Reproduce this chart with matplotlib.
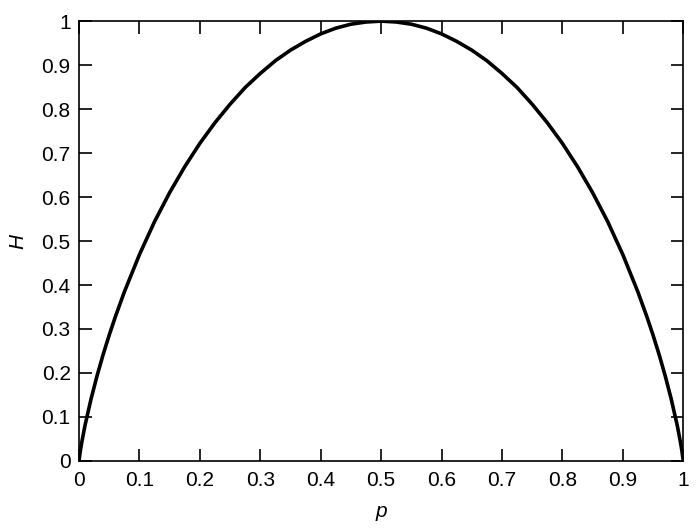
import matplotlib.pyplot as plt

# points
p = [0, 0.0025, 0.005, 0.01, 0.02, 0.03, 0.04, 0.05, 0.06, 0.075, 0.1,
     0.125, 0.15, 0.175, 0.2, 0.225, 0.25, 0.275, 0.3, 0.325, 0.35, 0.375,
     0.4, 0.425, 0.45, 0.475, 0.5,
     0.525, 0.55, 0.575, 0.6, 0.625, 0.65, 0.675, 0.7, 0.725, 0.75, 0.775,
     0.8, 0.825, 0.85, 0.875, 0.9, 0.925, 0.94, 0.95, 0.96, 0.97, 0.98,
     0.99, 0.995, 0.9975, 1]
H = [0, 0.025, 0.045, 0.081, 0.141, 0.194, 0.242, 0.286, 0.327, 0.384, 0.469,
     0.544, 0.610, 0.669, 0.722, 0.769, 0.811, 0.849, 0.881, 0.910, 0.934, 0.954,
     0.971, 0.984, 0.993, 0.998, 1.0,
     0.998, 0.993, 0.984, 0.971, 0.954, 0.934, 0.910, 0.881, 0.849, 0.811, 0.769,
     0.722, 0.669, 0.610, 0.544, 0.469, 0.384, 0.327, 0.286, 0.242, 0.194, 0.141,
     0.081, 0.045, 0.025, 0]

ticks = [0, 0.1, 0.2, 0.3, 0.4, 0.5, 0.6, 0.7, 0.8, 0.9, 1]
tick_labels = ['0', '0.1', '0.2', '0.3', '0.4', '0.5', '0.6', '0.7', '0.8', '0.9', '1']

plt.rcParams['font.family'] = ['Liberation Sans', 'DejaVu Sans']

fig = plt.figure(figsize=(6.97, 5.28), dpi=100)
ax = fig.add_axes([0.1133, 0.127, 0.867, 0.833])

ax.plot(p, H, color='black', linewidth=2.6, solid_joinstyle='round')

ax.set_xlim(0, 1)
ax.set_ylim(0, 1)
ax.set_xticks(ticks)
ax.set_xticklabels(tick_labels)
ax.set_yticks(ticks)
ax.set_yticklabels(tick_labels)
ax.tick_params(direction='in', length=9, width=1.2, top=True, right=True,
               labelsize=15, colors='black')
ax.tick_params(axis='x', pad=7)
ax.tick_params(axis='y', pad=6)
for s in ax.spines.values():
    s.set_linewidth(1.2)

ax.set_xlabel('p', fontsize=15, style='italic', labelpad=9)
ax.set_ylabel('H', fontsize=15, style='italic', labelpad=10)

fig.savefig('out.png', dpi=100)
